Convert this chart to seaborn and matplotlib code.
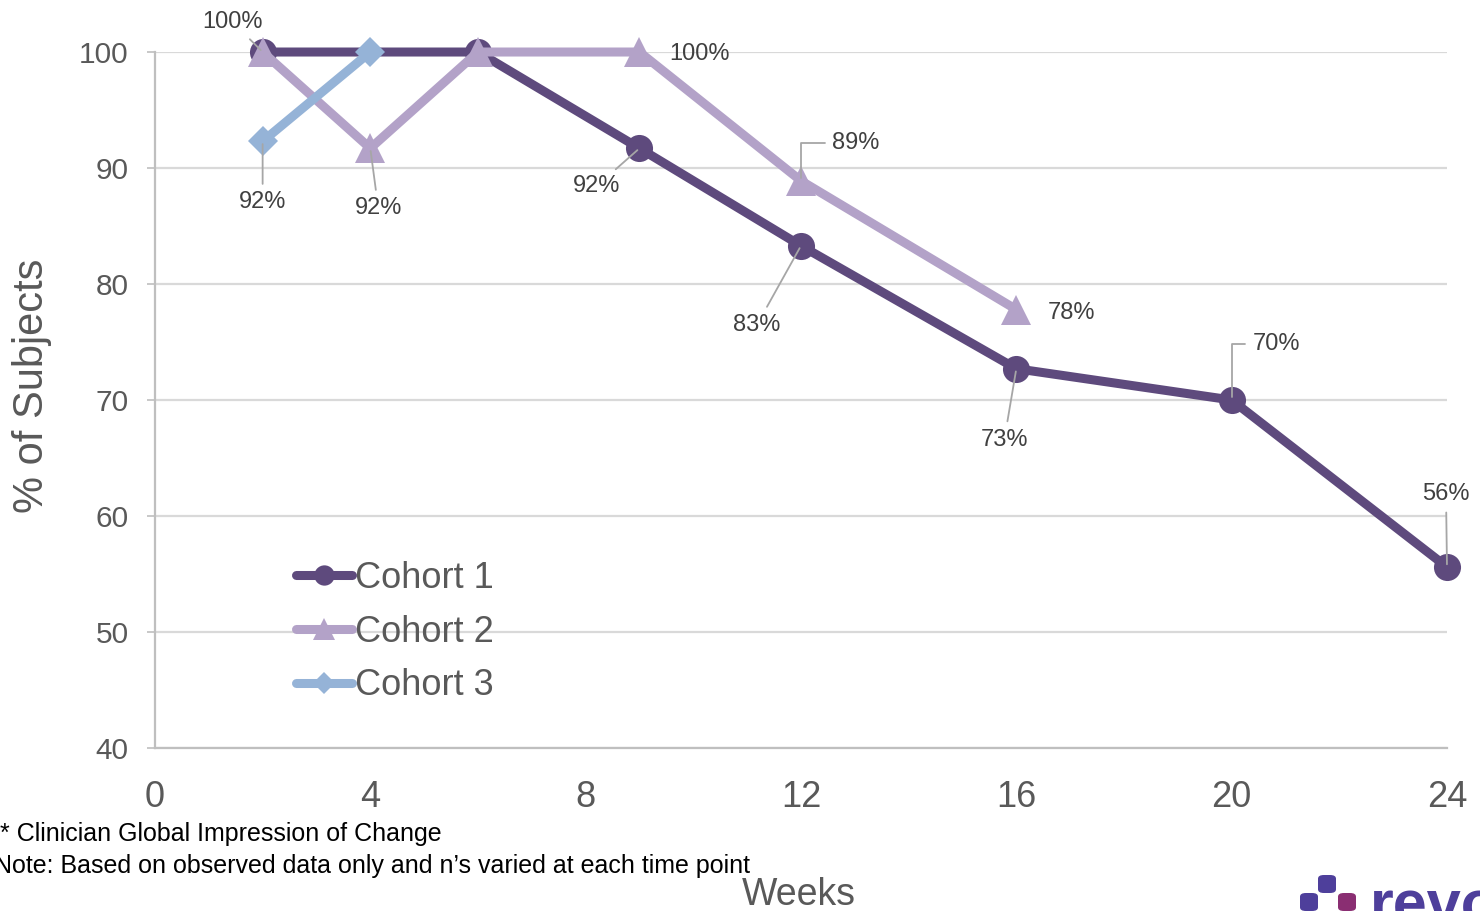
import matplotlib
matplotlib.use("Agg")
import matplotlib.pyplot as plt
from matplotlib.patches import FancyBboxPatch
from matplotlib.lines import Line2D
import pandas as pd
import seaborn as sns

# ---- data ----
cohorts = ["Cohort 1", "Cohort 2", "Cohort 3"]
weeks_c1 = [2, 6, 9, 12, 16, 20, 24]
pct_c1 = [100.0, 100.0, 91.7, 83.3, 72.7, 70.0, 55.6]
weeks_c2 = [2, 4, 6, 9, 12, 16]
pct_c2 = [100.0, 91.7, 100.0, 100.0, 88.9, 77.8]
weeks_c3 = [2, 4]
pct_c3 = [92.3, 100.0]
x_ticks = [0, 4, 8, 12, 16, 20, 24]
y_ticks = [40, 50, 60, 70, 80, 90, 100]
footnotes = ["* Clinician Global Impression of Change",
             "Note: Based on observed data only and n\u2019s varied at each time point"]

# ---- styling ----
colors = {"Cohort 1": "#5E4A7D", "Cohort 2": "#B3A2C8", "Cohort 3": "#95B3D7"}
markers = {"Cohort 1": "o", "Cohort 2": "^", "Cohort 3": "D"}
msizes = {"Cohort 1": 19.5, "Cohort 2": 21.5, "Cohort 3": 15.5}

# data-label placement: (cohort, week, dx px, dy px, leader style)
label_layout = [
    ("Cohort 1", 2, -30, 30, "line"),
    ("Cohort 3", 2, 0, -61, "line"),
    ("Cohort 2", 4, 8, -60, "line"),
    ("Cohort 1", 9, -43, -38, "line"),
    ("Cohort 2", 9, 60, -2, None),
    ("Cohort 2", 12, 55, 38, "elbow"),
    ("Cohort 1", 12, -44, -79, "line"),
    ("Cohort 2", 16, 55, -3, None),
    ("Cohort 1", 16, -12, -71, "line"),
    ("Cohort 1", 20, 45, 56, "elbow"),
    ("Cohort 1", 24, -1, 73, "line"),
]

base_font = "Liberation Sans"

sns.set_theme(style="white")
plt.rcParams["font.family"] = [base_font, "DejaVu Sans"]

frames = []
for name, wk, pc in [("Cohort 1", weeks_c1, pct_c1),
                     ("Cohort 2", weeks_c2, pct_c2),
                     ("Cohort 3", weeks_c3, pct_c3)]:
    frames.append(pd.DataFrame({"Week": wk, "Pct": pc, "Cohort": name}))
df = pd.concat(frames, ignore_index=True)

fig = plt.figure(figsize=(14.8, 9.11), dpi=100)
ax = fig.add_axes([0.1047, 0.1789, 0.8730, 0.7640])

for i, name in enumerate(cohorts):
    sub = df[df["Cohort"] == name]
    sns.lineplot(data=sub, x="Week", y="Pct", ax=ax, color=colors[name],
                 marker=markers[name], markersize=msizes[name],
                 markeredgewidth=0, linewidth=6.5, legend=False,
                 zorder=3 + i, clip_on=False, solid_joinstyle="round",
                 solid_capstyle="round")

ax.set_xlim(0, 24)
ax.set_ylim(40, 100)
ax.set_xticks(x_ticks)
ax.set_yticks(y_ticks)
ax.tick_params(axis="x", labelsize=26, labelcolor="#595959", length=0, pad=23)
ax.tick_params(axis="y", labelsize=21.5, labelcolor="#595959", length=6,
               width=1.2, color="#BFBFBF", left=True, pad=13)
ax.grid(axis="y", color="#D9D9D9", linewidth=1.6)
ax.grid(axis="x", visible=False)
for side in ["top", "right"]:
    ax.spines[side].set_visible(False)
for side in ["left", "bottom"]:
    ax.spines[side].set_color("#BFBFBF")
    ax.spines[side].set_linewidth(1.6)

ax.set_ylabel("% of Subjects", fontsize=30, color="#595959",
              ha="center", va="center")
ax.yaxis.set_label_coords(-0.095, 0.52)
ax.set_xlabel("Weeks", fontsize=27, color="#595959", va="center")
ax.xaxis.set_label_coords(0.4985, -0.211)

# data labels with leader lines
series = {"Cohort 1": dict(zip(weeks_c1, pct_c1)),
          "Cohort 2": dict(zip(weeks_c2, pct_c2)),
          "Cohort 3": dict(zip(weeks_c3, pct_c3))}
for name, wk, dx, dy, leader in label_layout:
    val = series[name][wk]
    kw = {}
    if leader == "line":
        kw["arrowprops"] = dict(arrowstyle="-", color="#A6A6A6", lw=1.3,
                                shrinkA=3, shrinkB=2)
    elif leader == "elbow":
        kw["arrowprops"] = dict(arrowstyle="-", color="#A6A6A6", lw=1.3,
                                shrinkA=3, shrinkB=2,
                                connectionstyle="angle,angleA=180,angleB=90,rad=0")
    ax.annotate(f"{round(val)}%", xy=(wk, val), xytext=(dx, dy),
                textcoords="offset pixels", ha="center", va="center",
                fontsize=17, color="#404040", zorder=10, **kw)

# legend
handles = [Line2D([], [], color=colors[n], marker=markers[n],
                  markersize=msizes[n] * 0.75, markeredgewidth=0,
                  linewidth=6.5, solid_capstyle="round") for n in cohorts]
leg = ax.legend(handles, cohorts, loc="upper left",
                bbox_to_anchor=(0.109, 0.269), frameon=False, fontsize=26,
                handlelength=1.55, handletextpad=0.08, labelspacing=0.52,
                borderpad=0, borderaxespad=0)
for t in leg.get_texts():
    t.set_color("#595959")

# footnotes
fig.text(0.0, 1 - 834 / 911, footnotes[0], fontsize=18,
         color="#000000", va="center", ha="left")
fig.text(-0.004, 1 - 866 / 911, footnotes[1], fontsize=18,
         color="#000000", va="center", ha="left")

# corner logo
logo_blue = "#4E3F9B"
logo_mag = "#8A2E72"
def block(x0, y0, c):
    fig.patches.append(FancyBboxPatch(
        (x0 / 1480, 1 - (y0 + 18) / 911), 18 / 1480, 18 / 911,
        boxstyle="round,pad=0,rounding_size=0.004", transform=fig.transFigure,
        facecolor=c, edgecolor="none"))
block(1318, 875, logo_blue)
block(1300, 893, logo_blue)
block(1338, 893, logo_mag)
fig.text(1370 / 1480, 1 - 924 / 911, "revo", fontsize=44, fontweight="bold",
         color=logo_blue, ha="left", va="baseline")

fig.savefig("out.png", dpi=100)
